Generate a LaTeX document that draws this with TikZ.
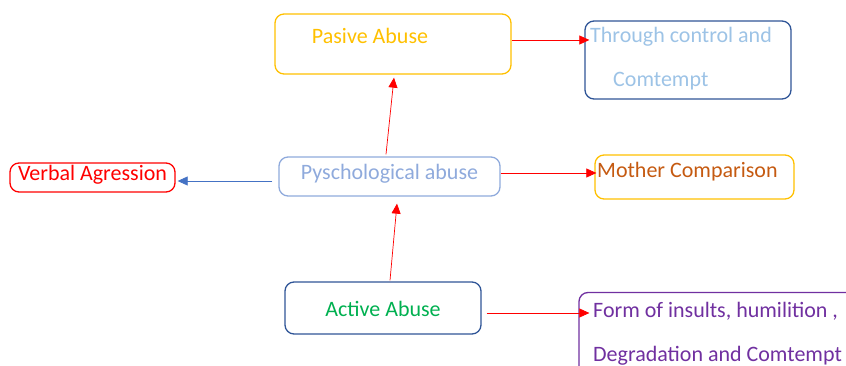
\documentclass[tikz,border=0pt]{standalone}
\usepackage{fontspec}
\setmainfont{Carlito}
\definecolor{gold}{HTML}{FFC000}
\definecolor{navy}{HTML}{2F5597}
\definecolor{skyblue}{HTML}{9DC3E6}
\definecolor{paleblue}{HTML}{8FAADC}
\definecolor{linkblue}{HTML}{4472C4}
\definecolor{rust}{HTML}{C55A11}
\definecolor{leaf}{HTML}{00B050}
\definecolor{plum}{HTML}{7030A0}
\usetikzlibrary{arrows.meta}
\tikzset{
  abox/.style={draw, rounded corners=9pt, line width=1.3pt, inner sep=0pt},
  atext/.style={font=\fontsize{22}{26}\selectfont, inner sep=0pt},
  redarrow/.style={draw=red, line width=0.7pt, -{Triangle[length=10pt,width=9pt]}},
  bluearrow/.style={draw=linkblue, line width=0.7pt, -{Triangle[length=10pt,width=9pt]}}
}
\begin{document}
\begin{tikzpicture}[x=1pt,y=-1pt]
  \useasboundingbox (0,0) rectangle (846,366);

  % Boxes
  \node[abox, draw=gold, minimum width=236pt, minimum height=60pt] (pasive) at (393,44) {};
  \node[abox, draw=navy, minimum width=206pt, minimum height=78pt] (through) at (688,60) {};
  \node[abox, draw=paleblue, minimum width=221pt, minimum height=39pt, atext, text=paleblue, text depth=9pt] (pysch) at (389.5,176.5) {Pyschological abuse};
  \node[abox, draw=red, minimum width=165pt, minimum height=29pt, atext, text=red, text depth=9pt] (verbal) at (92.5,177.5) {Verbal Agression};
  \node[abox, draw=gold, minimum width=199pt, minimum height=44pt] (mother) at (694.5,177) {};
  \node[abox, draw=navy, minimum width=196pt, minimum height=52pt, atext, text=leaf, text height=18pt] (active) at (383,308) {Active Abuse};
  \node[abox, draw=plum, minimum width=280pt, minimum height=87pt] (form) at (719,336) {};

  % Texts
  \node[atext, text=gold] (pasivetxt) at (370,36) {Pasive Abuse};
  \node[atext, text=skyblue, anchor=west] (throughA) at (590,37) {Through control and};
  \node[atext, text=skyblue, anchor=west] (throughB) at (613,81) {Comtempt};
  \node[atext, text=rust, anchor=west] (mothertxt) at (597,172) {Mother Comparison};
  \node[atext, text=plum, anchor=west] (formA) at (593,311) {Form of insults, humilition ,};
  \node[atext, text=plum, anchor=west] (formB) at (593,356) {Degradation and Comtempt};

  % Arrows
  \draw[redarrow] ([yshift=4pt]pasive.east) -- ([xshift=5pt,yshift=20pt]through.west);
  \draw[redarrow] ([xshift=-3.5pt,yshift=2pt]pysch.north) -- ([xshift=1pt,yshift=-3pt]pasive.south);
  \draw[bluearrow] ([xshift=-6pt,yshift=-4.5pt]pysch.west) -- ([xshift=2pt,yshift=-3.5pt]verbal.east);
  \draw[redarrow] ([yshift=3.5pt]pysch.east) -- ([xshift=2pt,yshift=4pt]mother.west);
  \draw[redarrow] ([xshift=7pt,yshift=1pt]active.north) -- ([xshift=7.5pt,yshift=-7pt]pysch.south);
  \draw[redarrow] ([xshift=5pt,yshift=-5pt]active.east) -- ([xshift=11pt,yshift=23pt]form.west);

\end{tikzpicture}
\end{document}
